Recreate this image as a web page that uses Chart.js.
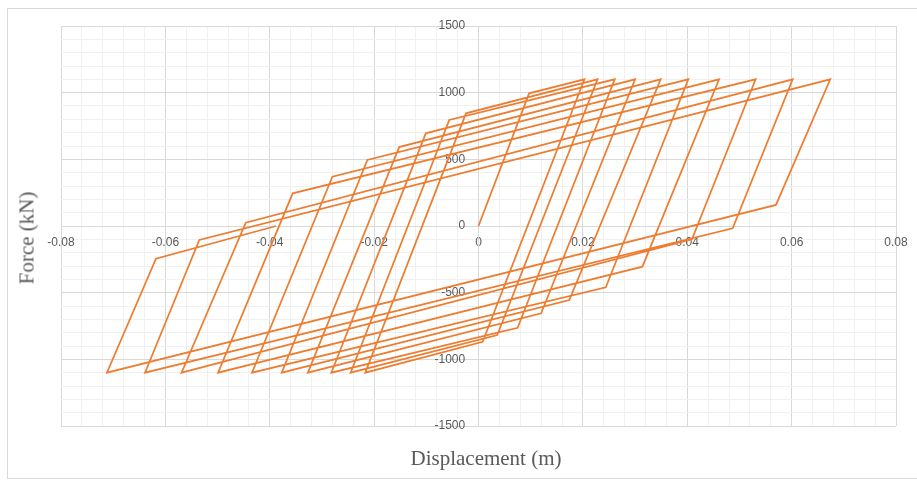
<!DOCTYPE html>
<html>
<head>
<meta charset="utf-8">
<title>Force - Displacement</title>
<script src="https://cdn.jsdelivr.net/npm/chart.js@4.4.1/dist/chart.umd.min.js"></script>
<style>
  html, body { margin: 0; padding: 0; background: #fff; }
  #wrap { position: relative; width: 917px; height: 480px; overflow: hidden; }
  #frame { position: absolute; left: 7px; top: 8px; width: 920px; height: 469px; border: 1px solid #d9d9d9; }
  #chart { position: absolute; left: 0; top: 0; }
  .axis-title { position: absolute; font-family: 'Liberation Serif', 'Times New Roman', serif; font-size: 21px; color: #595959; white-space: nowrap; }
  #xTitle { left: 486px; top: 458px; transform: translate(-50%, -50%); }
  #yTitle { left: 27px; top: 238px; transform: translate(-50%, -50%) rotate(-90deg); }
</style>
</head>
<body>
<div id="wrap">
  <div id="frame"></div>
  <canvas id="chart" width="917" height="480"></canvas>
  <div class="axis-title" id="xTitle">Displacement (m)</div>
  <div class="axis-title" id="yTitle">Force (kN)</div>
</div>
<script>
// ----------------------------------------
// DATA
// ----------------------------------------
// first loading from rest
const startPoint = [0, 0];
const firstYield = [0.0097, 995];

// tip of every cycle, pushing side and pulling side
const posPeakDisp  = [0.0203, 0.0228, 0.0261, 0.0300, 0.0349, 0.0402, 0.0461, 0.0531, 0.0602, 0.0674];
const posPeakForce = [1100, 1100, 1100, 1100, 1100, 1100, 1100, 1100, 1100, 1100];
const negPeakDisp  = [-0.0217, -0.0245, -0.0282, -0.0327, -0.0377, -0.0434, -0.0499, -0.0569, -0.0639, -0.0712];
const negPeakForce = [-1100, -1100, -1100, -1100, -1100, -1100, -1100, -1100, -1100, -1100];

// where the steep unloading after a positive tip turns into the flat branch
const rightKneeDisp  = [0.0008, 0.0036, 0.0075, 0.0120, 0.0174, 0.0244, 0.0314, 0.0409, 0.0487, 0.0570];
const rightKneeForce = [-868, -818, -763, -655, -555, -460, -305, -100, -17, 158];

// same after a negative tip
const leftKneeDisp  = [-0.0024, -0.0056, -0.0101, -0.0152, -0.0213, -0.0280, -0.0356, -0.0446, -0.0535, -0.0618];
const leftKneeForce = [845, 795, 695, 592, 495, 370, 245, 25, -105, -245];

// test stops here
const endPoint = [-0.0388, 0];

// axis ticks
const xMajorTicks = [-0.08, -0.06, -0.04, -0.02, 0, 0.02, 0.04, 0.06, 0.08];
const yMajorTicks = [-1500, -1000, -500, 0, 500, 1000, 1500];
const minorPerMajor = 5;

// ----------------------------------------
// BUILD THE PATH
// ----------------------------------------
function buildPath() {
    const pts = [{ x: startPoint[0], y: startPoint[1] }, { x: firstYield[0], y: firstYield[1] }];
    for (let i = 0; i < posPeakDisp.length; i++) {
        pts.push({ x: posPeakDisp[i], y: posPeakForce[i] });
        pts.push({ x: rightKneeDisp[i], y: rightKneeForce[i] });
        pts.push({ x: negPeakDisp[i], y: negPeakForce[i] });
        pts.push({ x: leftKneeDisp[i], y: leftKneeForce[i] });
    }
    pts.push({ x: endPoint[0], y: endPoint[1] });
    return pts;
}

function withMinors(majors) {
    const out = [];
    for (let i = 0; i < majors.length - 1; i++) {
        const step = (majors[i + 1] - majors[i]) / minorPerMajor;
        for (let j = 0; j < minorPerMajor; j++) out.push(majors[i] + step * j);
    }
    out.push(majors[majors.length - 1]);
    return out;
}

function isMajor(v, majors) {
    return majors.some(m => Math.abs(m - v) < 1e-9 * Math.max(1, Math.abs(m)));
}

const xTicks = withMinors(xMajorTicks);
const yTicks = withMinors(yMajorTicks);

const tickFont = { family: "'Liberation Sans', Arial, sans-serif", size: 12 };
const tickColor = '#595959';
const majorGrid = '#d9d9d9';
const minorGrid = '#f0f0f0';
// y labels sit right on the crossing axis, so pad them with a few spaces
const yLabelGap = '    ';

// ----------------------------------------
// CHART
// ----------------------------------------
new Chart(document.getElementById('chart'), {
    type: 'scatter',
    data: {
        datasets: [{
            data: buildPath(),
            showLine: true,
            borderColor: '#ED7D31',
            borderWidth: 1.75,
            pointRadius: 0,
            pointHoverRadius: 0,
            tension: 0,
            fill: false
        }]
    },
    options: {
        responsive: false,
        animation: false,
        layout: { padding: { left: 61, right: 21, top: 26, bottom: 54 } },
        plugins: {
            legend: { display: false },
            tooltip: { enabled: false }
        },
        scales: {
            x: {
                type: 'linear',
                position: { y: 0 },
                min: -0.08,
                max: 0.08,
                afterBuildTicks: axis => { axis.ticks = xTicks.map(v => ({ value: v })); },
                ticks: {
                    autoSkip: false,
                    maxRotation: 0,
                    padding: 9,
                    color: tickColor,
                    font: tickFont,
                    callback: v => isMajor(v, xMajorTicks) ? String(Math.round(v * 100) / 100) : ''
                },
                grid: {
                    drawTicks: false,
                    color: c => isMajor(c.tick.value, xMajorTicks) ? majorGrid : minorGrid,
                    lineWidth: 1
                },
                border: { color: majorGrid }
            },
            y: {
                type: 'linear',
                position: { x: 0 },
                min: -1500,
                max: 1500,
                afterBuildTicks: axis => { axis.ticks = yTicks.map(v => ({ value: v })); },
                ticks: {
                    autoSkip: false,
                    color: tickColor,
                    font: tickFont,
                    callback: v => isMajor(v, yMajorTicks) ? String(Math.round(v)) + yLabelGap : ''
                },
                grid: {
                    drawTicks: false,
                    color: c => isMajor(c.tick.value, yMajorTicks) ? majorGrid : minorGrid,
                    lineWidth: 1
                },
                border: { color: majorGrid }
            }
        }
    }
});
</script>
</body>
</html>
